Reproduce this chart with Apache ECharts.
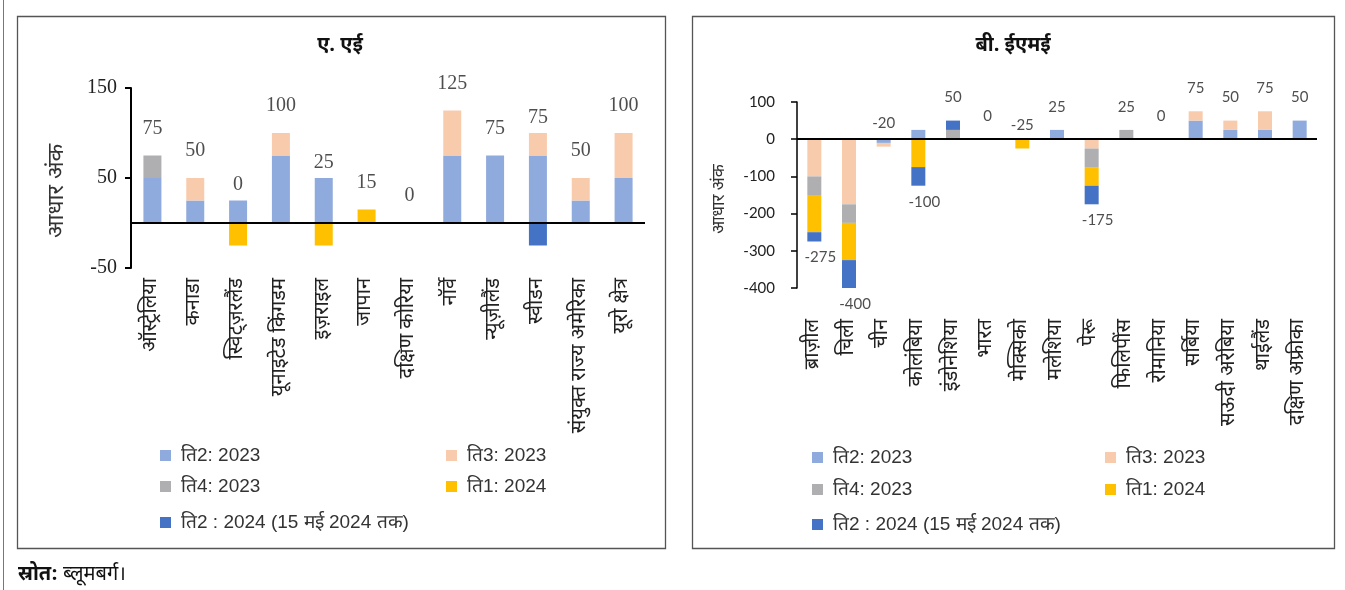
<!DOCTYPE html>
<html>
<head>
<meta charset="utf-8">
<script src="https://cdn.jsdelivr.net/npm/echarts@6/dist/echarts.min.js"></script>
<style>
html,body{margin:0;padding:0;background:#fff;}
#c{width:1345px;height:590px;}
</style>
</head>
<body>
<div id="c"></div>
<script>
// ---- Data ----
const seriesNames = ['ति2: 2023', 'ति3: 2023', 'ति4: 2023', 'ति1: 2024', 'ति2 : 2024 (15 मई 2024 तक)'];
const colors = ['#8FAADC', '#F8CBAD', '#AFAFB2', '#FFC000', '#4472C4'];

const titleA = 'ए. एई';
const titleB = 'बी. ईएमई';
const yName = 'आधार अंक';

const catsA = ['ऑस्ट्रेलिया', 'कनाडा', 'स्विट्ज़रलैंड', 'यूनाइटेड किंगडम', 'इज़राइल', 'जापान', 'दक्षिण कोरिया', 'नॉर्वे', 'न्यूज़ीलैंड', 'स्वीडन', 'संयुक्त राज्य अमेरिका', 'यूरो क्षेत्र'];
const a_q2_23 = [50, 25, 25, 75, 50, 0, 0, 75, 75, 75, 25, 50];
const a_q3_23 = [0, 25, 0, 25, 0, 0, 0, 50, 0, 25, 25, 50];
const a_q4_23 = [25, 0, 0, 0, 0, 0, 0, 0, 0, 0, 0, 0];
const a_q1_24 = [0, 0, -25, 0, -25, 15, 0, 0, 0, 0, 0, 0];
const a_q2_24 = [0, 0, 0, 0, 0, 0, 0, 0, 0, -25, 0, 0];
const ticksA = { min: -50, max: 150, interval: 100 };

const catsB = ['ब्राज़ील', 'चिली', 'चीन', 'कोलंबिया', 'इंडोनेशिया', 'भारत', 'मेक्सिको', 'मलेशिया', 'पेरू', 'फिलिपींस', 'रोमानिया', 'सर्बिया', 'सऊदी अरेबिया', 'थाईलैंड', 'दक्षिण अफ्रीका'];
const b_q2_23 = [0, 0, -10, 25, 0, 0, 0, 25, 0, 0, 0, 50, 25, 25, 50];
const b_q3_23 = [-100, -175, -10, 0, 0, 0, 0, 0, -25, 0, 0, 25, 25, 50, 0];
const b_q4_23 = [-50, -50, 0, 0, 25, 0, 0, 0, -50, 25, 0, 0, 0, 0, 0];
const b_q1_24 = [-100, -100, 0, -75, 0, 0, -25, 0, -50, 0, 0, 0, 0, 0, 0];
const b_q2_24 = [-25, -75, 0, -50, 25, 0, 0, 0, -50, 0, 0, 0, 0, 0, 0];
const ticksB = { min: -400, max: 100, interval: 100 };

const sourceBold = 'स्रोत:';
const sourceText = 'ब्लूमबर्ग।';

// ---- Build ----
const A = [a_q2_23, a_q3_23, a_q4_23, a_q1_24, a_q2_24];
const B = [b_q2_23, b_q3_23, b_q4_23, b_q1_24, b_q2_24];

function sums(arrs, n) {
  const tot = [], pos = [], neg = [];
  for (let i = 0; i < n; i++) {
    let t = 0, p = 0, g = 0;
    arrs.forEach(a => { t += a[i]; if (a[i] > 0) p += a[i]; else g += a[i]; });
    tot.push(t); pos.push(p); neg.push(g);
  }
  return { tot, pos, neg };
}
const sA = sums(A, catsA.length);
const sB = sums(B, catsB.length);

const devFont = '"Noto Sans Devanagari","Lohit Devanagari","Mangal","Noto Sans",sans-serif';
const serif = '"Liberation Serif","Times New Roman",serif';
const sans = 'Lato,"Open Sans",sans-serif';
const legFont = '"Liberation Sans",Arial,sans-serif';

const series = [];
function addBars(arrs, idx) {
  arrs.forEach((d, k) => {
    const s = {
      name: seriesNames[k], type: 'bar', stack: 'st' + idx,
      xAxisIndex: idx, yAxisIndex: idx,
      barWidth: idx === 0 ? 18 : 14,
      itemStyle: { color: colors[k] },
      data: d, silent: true, animation: false
    };
    if (k === 0) {
      s.markLine = {
        silent: true, symbol: ['none', 'none'], animation: false,
        label: { show: false },
        lineStyle: { color: '#000', width: 2, type: 'solid' },
        data: [{ yAxis: 0 }]
      };
    }
    series.push(s);
  });
}
addBars(A, 0);
addBars(B, 1);

// label series A
series.push({
  type: 'scatter', xAxisIndex: 0, yAxisIndex: 0, symbolSize: 1, silent: true, animation: false,
  itemStyle: { color: 'rgba(0,0,0,0)' },
  label: { show: true, position: 'inside', offset: [0, -27], fontFamily: serif, fontSize: 20, color: '#222',
    formatter: p => String(p.data.t) },
  data: catsA.map((c, i) => ({ value: [i, (sA.tot[i] + sA.pos[i]) / 2], t: sA.tot[i] }))
});
// label series B
series.push({
  type: 'scatter', xAxisIndex: 1, yAxisIndex: 1, symbolSize: 1, silent: true, animation: false,
  itemStyle: { color: 'rgba(0,0,0,0)' },
  label: { show: true, position: 'inside', fontFamily: sans, fontSize: 15, color: '#222',
    formatter: p => String(p.data.t) },
  data: catsB.map((c, i) => {
    const below = sB.tot[i] <= -100;
    return {
      value: [i, below ? sB.neg[i] : sB.tot[i]], t: sB.tot[i],
      label: { offset: below ? [6, 16] : [0, -23] }
    };
  })
});

function legends(x1, x2, y1, y2, y3) {
  const pos = [[x1, y1], [x2, y1], [x1, y2], [x2, y2], [x1, y3]];
  return seriesNames.map((n, k) => ({
    data: [n], left: pos[k][0], top: pos[k][1], padding: 0,
    icon: 'rect', itemWidth: 11, itemHeight: 11, selectedMode: false,
    textStyle: { fontFamily: legFont, fontSize: 19, color: '#333', padding: [0, 0, 0, 5] }
  }));
}

const option = {
  animation: false,
  color: colors,
  grid: [
    { left: 131, top: 88, width: 514, height: 180 },
    { left: 797, top: 102, width: 520, height: 186 }
  ],
  xAxis: [
    { type: 'category', gridIndex: 0, data: catsA, axisLine: { show: false }, axisTick: { show: false },
      axisLabel: { rotate: 90, margin: 10, fontSize: 20, fontFamily: devFont, color: '#222', interval: 0 } },
    { type: 'category', gridIndex: 1, data: catsB, axisLine: { show: false }, axisTick: { show: false },
      axisLabel: { rotate: 90, margin: 31, fontSize: 20, fontFamily: devFont, color: '#222', interval: 0 } }
  ],
  yAxis: [
    { type: 'value', gridIndex: 0, min: ticksA.min, max: ticksA.max, interval: ticksA.interval,
      name: yName, nameLocation: 'middle', nameRotate: 90, nameGap: 61,
      nameTextStyle: { fontFamily: devFont, fontSize: 23, color: '#333', padding: [0, 26, 0, 0] },
      axisLine: { show: true, lineStyle: { color: '#000', width: 2 } },
      axisTick: { show: true, inside: false, length: 6, lineStyle: { color: '#000', width: 2 } },
      splitLine: { show: false },
      axisLabel: { margin: 14, fontFamily: serif, fontSize: 20, color: '#222' } },
    { type: 'value', gridIndex: 1, min: ticksB.min, max: ticksB.max, interval: ticksB.interval,
      name: yName, nameLocation: 'middle', nameRotate: 90, nameGap: 68,
      nameTextStyle: { fontFamily: devFont, fontSize: 17, color: '#333', padding: [0, 8, 0, 0] },
      axisLine: { show: true, lineStyle: { color: '#000', width: 1.5 } },
      axisTick: { show: true, inside: false, length: 6, lineStyle: { color: '#000', width: 1.5 } },
      splitLine: { show: false },
      axisLabel: { margin: 22, fontFamily: sans, fontSize: 15, color: '#222' } }
  ],
  legend: legends(160, 446, 446, 477, 513).concat(legends(812, 1105, 448, 480, 515)),
  graphic: [
    { type: 'line', shape: { x1: 3.5, y1: 0, x2: 3.5, y2: 590 }, style: { stroke: '#777', lineWidth: 1 }, silent: true },
    { type: 'rect', shape: { x: 17.5, y: 16.5, width: 648, height: 532 }, style: { fill: 'none', stroke: '#555', lineWidth: 1.3 }, silent: true },
    { type: 'rect', shape: { x: 692.5, y: 16.5, width: 642, height: 532 }, style: { fill: 'none', stroke: '#555', lineWidth: 1.3 }, silent: true },
    { type: 'text', x: 340, y: 47, silent: true,
      style: { text: titleA, textAlign: 'center', textVerticalAlign: 'middle', font: 'bold 20px ' + devFont, fill: '#111' } },
    { type: 'text', x: 1013, y: 47, silent: true,
      style: { text: titleB, textAlign: 'center', textVerticalAlign: 'middle', font: 'bold 20px ' + devFont, fill: '#111' } },
    { type: 'text', x: 18, y: 576, silent: true,
      style: { text: sourceBold, textVerticalAlign: 'middle', font: 'bold 20px ' + devFont, fill: '#111' } },
    { type: 'text', x: 63, y: 576, silent: true,
      style: { text: sourceText, textVerticalAlign: 'middle', font: '20px ' + devFont, fill: '#111' } }
  ],
  series: series
};

const chart = echarts.init(document.getElementById('c'), null, { renderer: 'canvas' });
chart.setOption(option);
</script>
</body>
</html>
